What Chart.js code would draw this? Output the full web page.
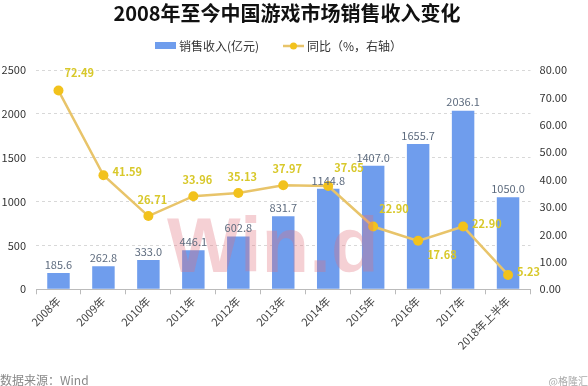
<!DOCTYPE html>
<html lang="zh">
<head>
<meta charset="UTF-8">
<script src="https://cdn.jsdelivr.net/npm/chart.js@4.4.0/dist/chart.umd.min.js"></script>
<title>2008年至今中国游戏市场销售收入变化</title>
<style>
  html, body { margin: 0; padding: 0; background: #fff; }
</style>
</head>
<body>
<canvas id="myChart" width="588" height="386"></canvas>
<script>
var categories = ['2008年', '2009年', '2010年', '2011年', '2012年', '2013年', '2014年', '2015年', '2016年', '2017年', '2018年上半年'];
var revenue = [185.6, 262.8, 333.0, 446.1, 602.8, 831.7, 1144.8, 1407.0, 1655.7, 2036.1, 1050.0];
var growth = [72.49, 41.59, 26.71, 33.96, 35.13, 37.97, 37.65, 22.90, 17.68, 22.90, 5.23];
var leftTicks = [0, 500, 1000, 1500, 2000, 2500];
var rightTicks = [0, 10, 20, 30, 40, 50, 60, 70, 80];

// where each growth label sits relative to its point
var growthLabelPos = ['ne', 'e', 'n', 'n', 'n', 'n', 'ne', 'ne', 'se', 'e', 'e'];

var FONT = '"Noto Sans CJK SC", "Liberation Sans", Arial, sans-serif';
var BAR_COLOR = '#6f9ded';
var LINE_COLOR = '#e8c46a';
var DOT_COLOR = '#f2c21c';

var extras = {
  id: 'extras',
  afterDatasetsDraw: function(chart) {
    var ctx = chart.ctx;
    ctx.save();

    // watermark
    ctx.globalAlpha = 0.33;
    ctx.fillStyle = '#e0707c';
    ctx.font = 'bold 78px "Liberation Sans", Arial, sans-serif';
    ctx.textBaseline = 'alphabetic';
    ctx.textAlign = 'left';
    ctx.fillText('Win.d', 167, 272);
    ctx.globalAlpha = 1;

    // bar labels
    ctx.font = '11px ' + FONT;
    ctx.fillStyle = '#5d6b7e';
    ctx.textAlign = 'center';
    ctx.textBaseline = 'bottom';
    chart.getDatasetMeta(0).data.forEach(function(bar, i) {
      ctx.fillText(revenue[i].toFixed(1), bar.x, bar.y - 3);
    });

    // line labels
    ctx.fillStyle = '#d8c82a';
    ctx.font = 'bold 11px ' + FONT;
    chart.getDatasetMeta(1).data.forEach(function(pt, i) {
      var t = growth[i].toFixed(2), p = growthLabelPos[i];
      var x = pt.x, y = pt.y;
      ctx.textBaseline = 'middle';
      if (p === 'n') { ctx.textAlign = 'center'; x += 4; y -= 16; }
      else if (p === 'ne') { ctx.textAlign = 'left'; x += 6; y -= 18; }
      else if (p === 'e') { ctx.textAlign = 'left'; x += 9; y -= 3; }
      else if (p === 'se') { ctx.textAlign = 'left'; x += 9; y += 14; }
      ctx.fillText(t, x, y);
    });

    ctx.restore();
  },
  afterDraw: function(chart) {
    var ctx = chart.ctx;
    ctx.save();
    // title
    ctx.fillStyle = '#111';
    ctx.font = 'bold 20px ' + FONT;
    ctx.textAlign = 'center';
    ctx.textBaseline = 'middle';
    ctx.fillText('2008年至今中国游戏市场销售收入变化', 287, 13);

    // legend
    ctx.font = '12px ' + FONT;
    ctx.textAlign = 'left';
    ctx.fillStyle = BAR_COLOR;
    ctx.fillRect(155, 42, 21, 7);
    ctx.fillStyle = '#333';
    ctx.fillText('销售收入(亿元)', 179, 46);
    ctx.strokeStyle = LINE_COLOR;
    ctx.lineWidth = 2.5;
    ctx.beginPath(); ctx.moveTo(283, 46); ctx.lineTo(304, 46); ctx.stroke();
    ctx.fillStyle = DOT_COLOR;
    ctx.beginPath(); ctx.arc(293.5, 46, 3.5, 0, Math.PI * 2); ctx.fill();
    ctx.fillStyle = '#333';
    ctx.fillText('同比（%，右轴）', 307, 46);

    // footer
    ctx.font = '12px ' + FONT;
    ctx.fillStyle = '#888';
    ctx.textBaseline = 'bottom';
    ctx.fillText('数据来源：Wind', 0, 386);
    ctx.font = '10px ' + FONT;
    ctx.fillStyle = '#aaa';
    ctx.textAlign = 'right';
    ctx.fillText('@格隆汇', 588, 386);
    ctx.restore();
  }
};

var ctx = document.getElementById('myChart').getContext('2d');

var myChart = new Chart(ctx, {
  type: 'bar',
  data: {
    labels: categories,
    datasets: [{
      type: 'bar',
      label: '销售收入(亿元)',
      data: revenue,
      backgroundColor: BAR_COLOR,
      barPercentage: 0.5,
      categoryPercentage: 1.0,
      yAxisID: 'y',
      order: 2
    }, {
      type: 'line',
      label: '同比（%，右轴）',
      data: growth,
      borderColor: LINE_COLOR,
      borderWidth: 2.5,
      pointRadius: 5,
      pointBackgroundColor: DOT_COLOR,
      pointBorderWidth: 0,
      tension: 0,
      yAxisID: 'y1',
      order: 1
    }]
  },
  options: {
    responsive: false,
    animation: false,
    layout: { padding: { top: 70, left: 0, right: 12, bottom: 34 } },
    plugins: {
      legend: { display: false },
      title: { display: false },
      tooltip: { enabled: false }
    },
    scales: {
      x: {
        offset: true,
        grid: { drawOnChartArea: false, drawTicks: true, tickLength: 5, offset: true, color: '#bbb' },
        border: { display: true, color: '#bbb' },
        ticks: { maxRotation: 45, minRotation: 45, color: '#444', font: { size: 11, family: FONT }, padding: 0 }
      },
      y: {
        position: 'left',
        min: 0,
        max: 2500,
        afterBuildTicks: function(axis) { axis.ticks = leftTicks.map(function(v) { return { value: v }; }); },
        afterFit: function(axis) { axis.width = 36; },
        grid: { color: '#d8d8d8', drawTicks: false, borderDash: [3, 3] },
        border: { display: false, dash: [3, 3] },
        ticks: {
          color: '#333', font: { size: 11, family: FONT }, padding: 10,
          callback: function(v) { return String(v); }
        }
      },
      y1: {
        position: 'right',
        min: 0,
        max: 80,
        afterBuildTicks: function(axis) { axis.ticks = rightTicks.map(function(v) { return { value: v }; }); },
        grid: { drawOnChartArea: false, drawTicks: false },
        border: { display: false },
        ticks: {
          color: '#333', font: { size: 11, family: FONT }, padding: 9,
          callback: function(v) { return v.toFixed(2); }
        }
      }
    }
  },
  plugins: [extras]
});
</script>
</body>
</html>
